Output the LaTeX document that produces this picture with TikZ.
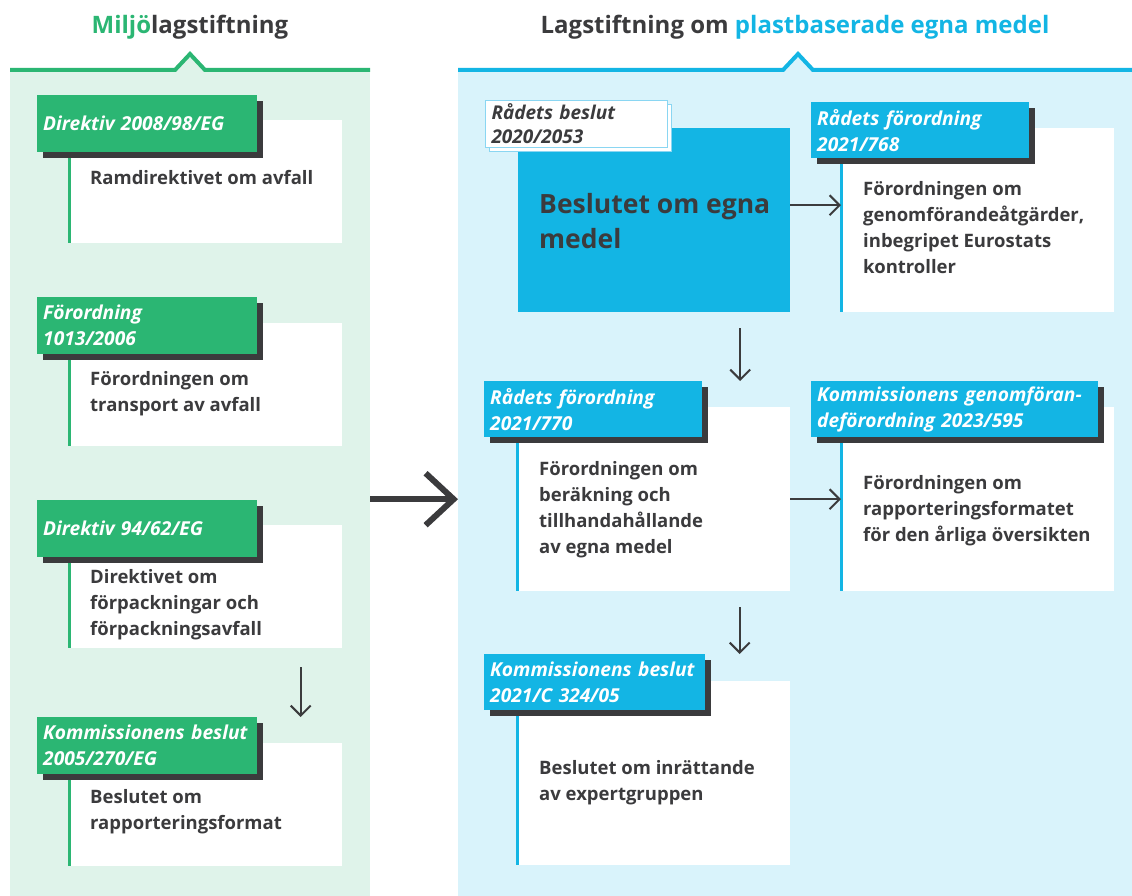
\documentclass[tikz,border=0pt]{standalone}
\usepackage{fontspec}
\setmainfont{Open Sans}
\usetikzlibrary{arrows.meta,shadows}

\definecolor{eugreen}{HTML}{2BB673}
\definecolor{palegreen}{HTML}{DFF3EA}
\definecolor{eublue}{HTML}{13B5E4}
\definecolor{paleblue}{HTML}{D9F3FB}
\definecolor{rimblue}{HTML}{8AD6F2}
\definecolor{inkgrey}{HTML}{3B3B3D}

\begin{document}
\begin{tikzpicture}[x=1pt,y=-1pt,
    panel/.style={inner sep=0pt, anchor=north west},
    whitebox/.style={fill=white, inner sep=0pt, minimum width=273pt, anchor=north west},
    headbox/.style={anchor=north west, inner xsep=6pt, inner ysep=0pt, align=left,
        text=white, font=\bfseries\itshape\fontsize{19.2}{26}\selectfont,
        drop shadow={shadow xshift=6pt, shadow yshift=-6pt, fill=inkgrey, opacity=1}},
    greenhead/.style={headbox, fill=eugreen, minimum height=57pt},
    bluehead/.style={headbox, fill=eublue, minimum height=56pt},
    bodytext/.style={anchor=west, inner sep=0pt, align=left, text=inkgrey,
        font=\bfseries\fontsize{18.5}{26}\selectfont},
    greenedge/.style={draw=eugreen, line width=3pt},
    blueedge/.style={draw=eublue, line width=3pt},
    thinarrow/.style={draw=inkgrey, line width=2pt, -{Straight Barb[length=10pt,width=20pt]}},
    bigarrow/.style={draw=inkgrey, line width=6pt, -{Straight Barb[length=28pt,width=52pt]}}]
  \useasboundingbox (0,0) rectangle (1132,896);

  % panels
  \node[panel, fill=palegreen, minimum width=360pt, minimum height=826pt] (panelL) at (10,70) {};
  \node[panel, fill=paleblue, minimum width=674pt, minimum height=826pt] (panelR) at (458,70) {};
  \fill[palegreen] (175,70) -- (190,54) -- (205,70) -- cycle;
  \fill[paleblue] (783,70) -- (798,54) -- (813,70) -- cycle;
  \draw[eugreen, line width=4pt] (10,70) -- (175,70) -- (190,54) -- (205,70) -- (370,70);
  \draw[eublue, line width=4pt] (458,70) -- (783,70) -- (798,54) -- (813,70) -- (1132,70);

  % titles
  \node[text=inkgrey, font=\bfseries\fontsize{24}{28}\selectfont] (titleL) at (190,27)
    {\textcolor{eugreen}{Miljö}lagstiftning};
  \node[text=inkgrey, font=\bfseries\fontsize{24}{28}\selectfont] (titleR) at (795,27)
    {Lagstiftning om \textcolor{eublue}{plastbaserade egna medel}};

  % left column
  \node[whitebox, minimum height=123pt] (w1) at (69,120) {};
  \draw[greenedge] (w1.north west) -- (w1.south west);
  \node[greenhead, text width=208pt] (h1) at (37,95) {Direktiv 2008/98/EG};
  \node[bodytext] (t1) at (90,178) {Ramdirektivet om avfall};

  \node[whitebox, minimum height=123pt] (w2) at (69,323) {};
  \draw[greenedge] (w2.north west) -- (w2.south west);
  \node[greenhead, text width=208pt] (h2) at (37,297) {Förordning\\1013/2006};
  \node[bodytext] (t2) at (90,394) {Förordningen om\\transport av avfall};

  \node[whitebox, minimum height=123pt] (w3) at (69,525) {};
  \draw[greenedge] (w3.north west) -- (w3.south west);
  \node[greenhead, text width=208pt] (h3) at (37,500) {Direktiv 94/62/EG};
  \node[bodytext] (t3) at (90,605) {Direktivet om\\förpackningar och\\förpackningsavfall};

  \node[whitebox, minimum height=123pt] (w4) at (69,743) {};
  \draw[greenedge] (w4.north west) -- (w4.south west);
  \node[greenhead, text width=208pt] (h4) at (37,717) {Kommissionens beslut\\2005/270/EG};
  \node[bodytext] (t4) at (90,812) {Beslutet om\\rapporteringsformat};

  % right column
  \node[panel, fill=eublue, minimum width=272pt, minimum height=184pt] (rb) at (518,128) {};
  \node[anchor=north west, fill=white, draw=rimblue, line width=1pt, minimum width=182pt,
      minimum height=47pt, text width=170pt, inner xsep=6pt, inner ysep=0pt, align=left,
      text=inkgrey, font=\bfseries\itshape\fontsize{19}{24}\selectfont,
      copy shadow={shadow xshift=4pt, shadow yshift=-4pt, fill=white, draw=rimblue}]
    (rh1) at (485,100) {Rådets beslut\\2020/2053};
  \node[anchor=west, inner sep=0pt, align=left, text=inkgrey,
      font=\bfseries\fontsize{26.5}{35}\selectfont] (rt1) at (539,221) {Beslutet om egna\\medel};

  \node[whitebox, minimum height=184pt] (rw2) at (841,128) {};
  \draw[blueedge] (rw2.north west) -- (rw2.south west);
  \node[bluehead, text width=206pt] (rh2) at (811,102) {Rådets förordning\\2021/768};
  \node[bodytext] (rt2) at (863,228) {Förordningen om\\genomförandeåtgärder,\\inbegripet Eurostats\\kontroller};

  \node[whitebox, minimum height=184pt] (rw3) at (517,407) {};
  \draw[blueedge] (rw3.north west) -- (rw3.south west);
  \node[bluehead, text width=206pt] (rh3) at (484,381) {Rådets förordning\\2021/770};
  \node[bodytext] (rt3) at (539,510) {Förordningen om\\beräkning och\\tillhandahållande\\av egna medel};

  \node[whitebox, minimum height=184pt] (rw4) at (841,407) {};
  \draw[blueedge] (rw4.north west) -- (rw4.south west);
  \node[bluehead, text width=275pt] (rh4) at (811,381) {Kommissionens genomföran-\\deförordning 2023/595};
  \node[bodytext] (rt4) at (863,511) {Förordningen om\\rapporteringsformatet\\för den årliga översikten};

  \node[whitebox, minimum height=184pt] (rw5) at (517,681) {};
  \draw[blueedge] (rw5.north west) -- (rw5.south west);
  \node[bluehead, text width=209pt] (rh5) at (484,654) {Kommissionens beslut\\2021/C 324/05};
  \node[bodytext] (rt5) at (539,783) {Beslutet om inrättande\\av expertgruppen};

  % arrows
  \draw[bigarrow] ([yshift=-16pt]panelL.east) -- ([yshift=-16pt]panelR.west);
  \draw[thinarrow] ([xshift=95pt,yshift=-19pt]w3.south) -- ([xshift=95pt]w3.south |- h4.north);
  \draw[thinarrow] ([yshift=15pt]rb.east) -- ([yshift=15pt]rw2.west);
  \draw[thinarrow] ([xshift=86pt,yshift=-16pt]rb.south) -- ([xshift=86pt]rb.south |- rh3.north);
  \draw[thinarrow] (rw3.east) -- (rw4.west);
  \draw[thinarrow] ([xshift=86pt,yshift=-16pt]rw3.south) -- ([xshift=86pt]rw3.south |- rh5.north);
\end{tikzpicture}
\end{document}
